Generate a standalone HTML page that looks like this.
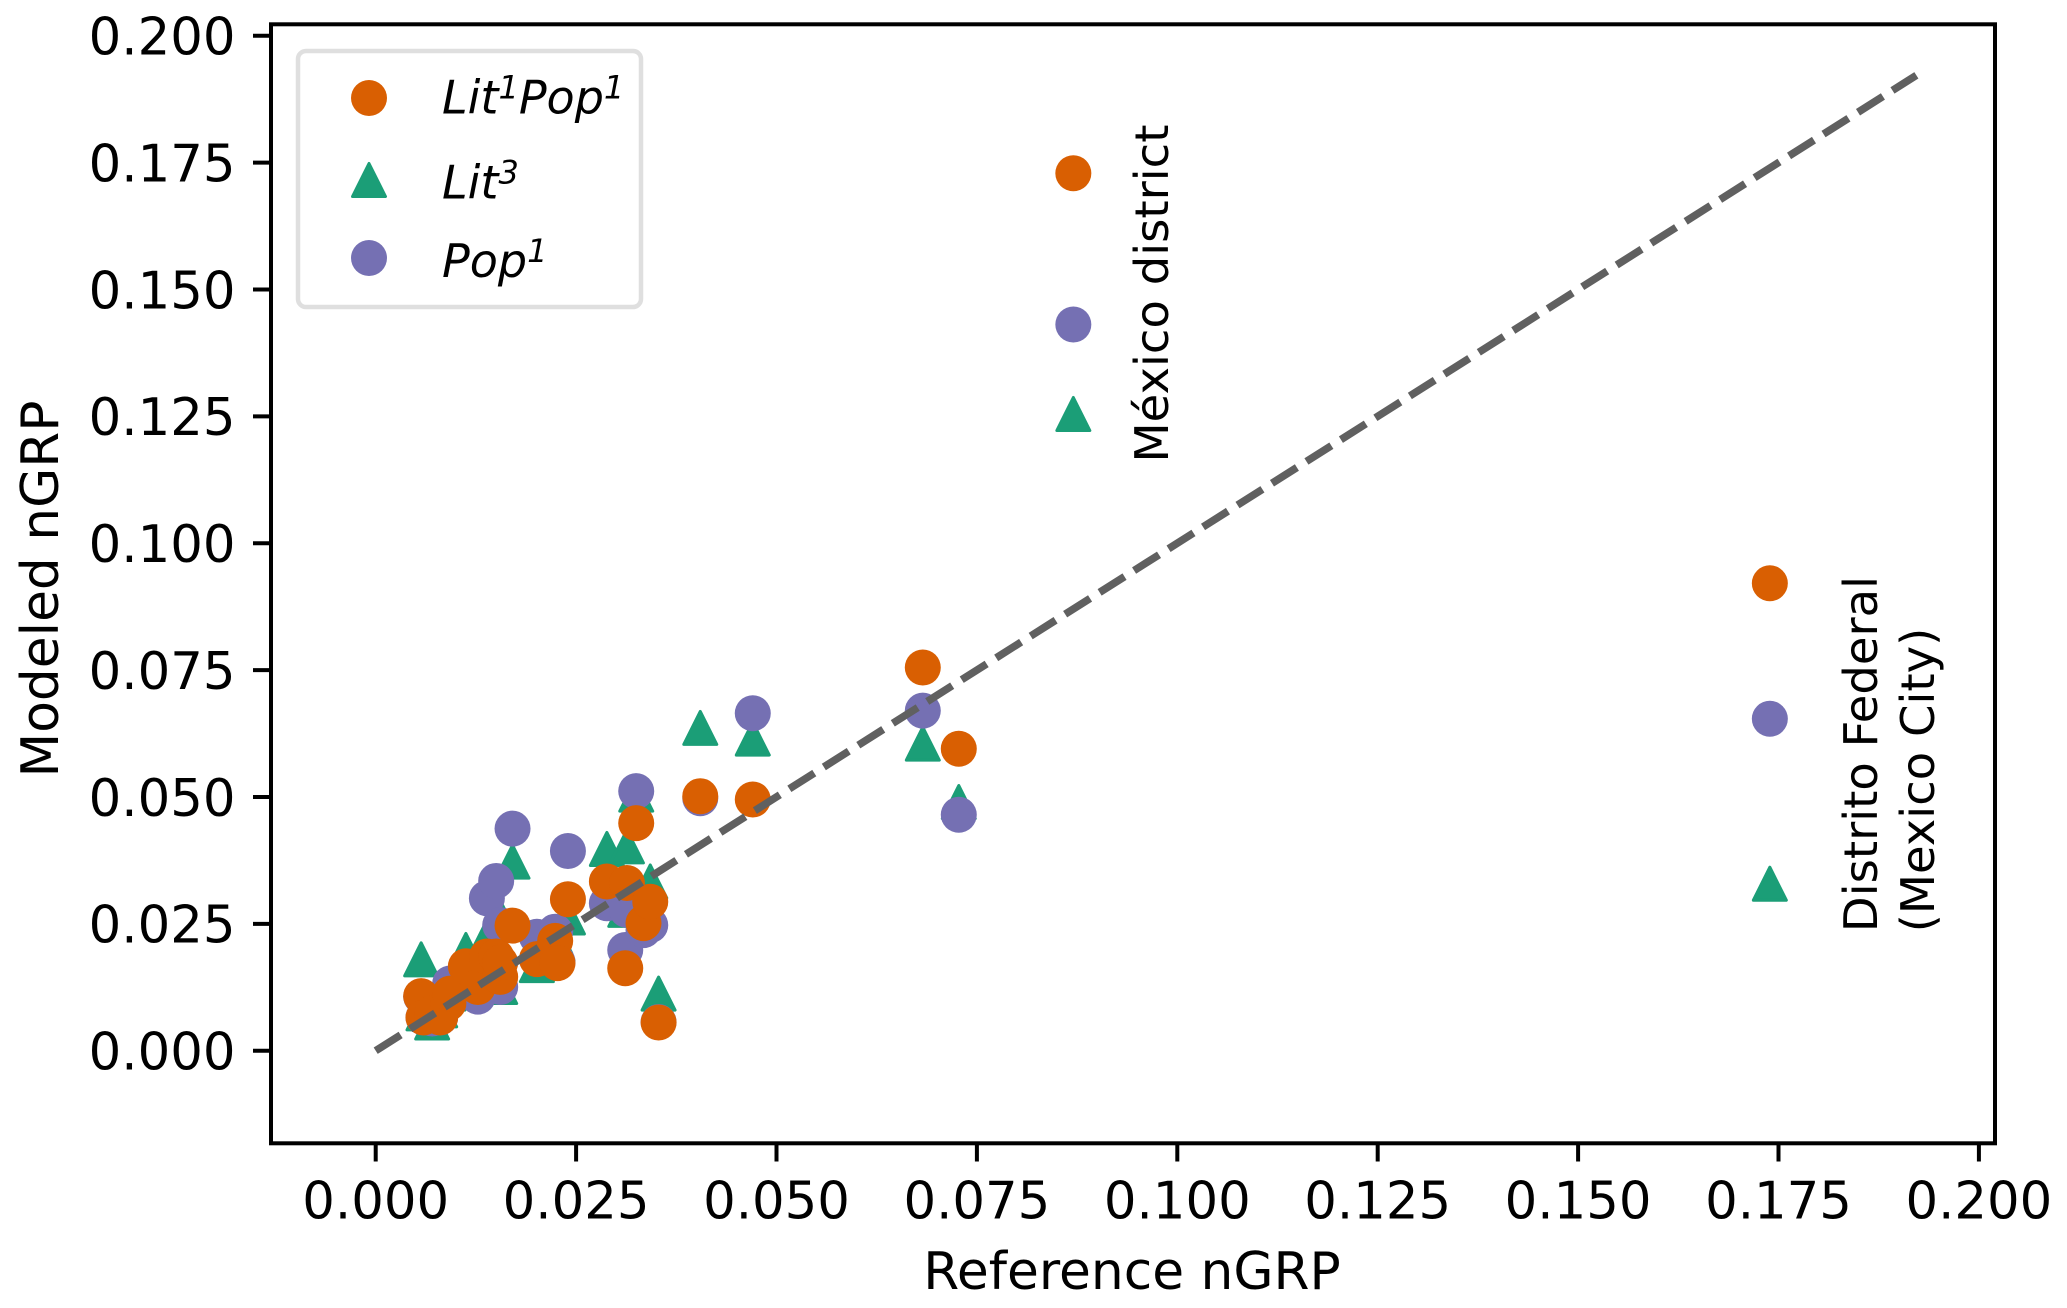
<!DOCTYPE html>
<html lang="en">
<head>
<meta charset="utf-8">
<title>Modeled vs Reference nGRP</title>
<style>
html,body{margin:0;padding:0;background:#fff;}
svg{display:block;}
text{font-family:"DejaVu Sans","Liberation Sans",sans-serif;fill:#000;}
</style>
</head>
<body>
<svg id="chart" xmlns="http://www.w3.org/2000/svg" width="2067" height="1308" viewBox="0 0 2067 1308">
  <rect x="0" y="0" width="2067" height="1308" fill="#ffffff"/>
  <g id="ticks"></g>
  <g id="marks"></g>
  <rect x="271" y="24.3" width="1724" height="1119" fill="none" stroke="#000" stroke-width="4"/>
  <text x="1132" y="1289" font-size="51.8" text-anchor="middle">Reference nGRP</text>
  <text transform="translate(58,589) rotate(-90)" font-size="51.8" text-anchor="middle">Modeled nGRP</text>
  <text transform="translate(1168,293.5) rotate(-90)" font-size="46.5" text-anchor="middle">México district</text>
  <text transform="translate(1877,754) rotate(-90)" font-size="46.5" text-anchor="middle">Distrito Federal</text>
  <text transform="translate(1934,780) rotate(-90)" font-size="46.5" text-anchor="middle">(Mexico City)</text>
  <g>
    <rect x="298" y="51" width="343" height="256" rx="8" ry="8" fill="#fff" stroke="#dfdfdf" stroke-width="4.5"/>
    <circle cx="369" cy="98" r="18" fill="#d95f02"/>
    <polygon points="369,163.5 385.5,196.5 352.5,196.5" fill="#1b9e77" stroke="#1b9e77" stroke-width="3" stroke-linejoin="round"/>
    <circle cx="369" cy="258" r="18" fill="#7570b3"/>
    <text x="442" y="113.5" font-size="46" font-style="italic">Lit<tspan font-size="32" dy="-15">1</tspan><tspan dy="15">Pop</tspan><tspan font-size="32" dy="-15">1</tspan></text>
    <text x="442" y="198.5" font-size="46" font-style="italic">Lit<tspan font-size="32" dy="-15">3</tspan></text>
    <text x="442" y="277" font-size="46" font-style="italic">Pop<tspan font-size="32" dy="-15">1</tspan></text>
  </g>
</svg>
<script>
const referenceValues = [0.00567,0.00596,0.00704,0.00804,0.00907,0.00929,0.01125,0.01274,0.01387,0.01503,0.01553,0.01553,0.01707,0.02011,0.02239,0.02268,0.02398,0.02884,0.03113,0.03134,0.0325,0.03341,0.03425,0.03529,0.04049,0.04704,0.06825,0.07274,0.08703,0.17392];
const lit1pop1Values = [0.01075,0.00655,0.00735,0.00655,0.00935,0.01125,0.01665,0.01255,0.01855,0.01855,0.01455,0.01735,0.02465,0.01805,0.02165,0.01725,0.02985,0.03335,0.01625,0.03305,0.04485,0.02515,0.02935,0.00555,0.05015,0.0495,0.0755,0.0595,0.1729,0.0921];
const lit3Values = [0.0180,0.00735,0.00555,0.00795,0.01125,0.01235,0.01985,0.01585,0.02245,0.02515,0.01255,0.02635,0.03725,0.01685,0.0225,0.0210,0.02625,0.03975,0.02775,0.04025,0.05045,0.03035,0.03335,0.01125,0.0636,0.0615,0.0605,0.0490,0.12546,0.0329];
const pop1Values = [0.01065,0.00655,0.00635,0.00655,0.00995,0.01325,0.01255,0.01065,0.03005,0.03345,0.01255,0.02475,0.04375,0.02245,0.02345,0.0175,0.03935,0.02905,0.01985,0.02775,0.05115,0.02375,0.02475,0.00565,0.04975,0.0665,0.0670,0.0465,0.1431,0.0654];
const xTickValues = [0,0.025,0.05,0.075,0.1,0.125,0.15,0.175,0.2];
const yTickValues = [0,0.025,0.05,0.075,0.1,0.125,0.15,0.175,0.2];
const referenceLineEnds = [0,0.1922];

const SVG_NS = 'http://www.w3.org/2000/svg';
function xScale(v){ return 375.7 + v * 8016; }
function yScale(v){ return 1050.7 - v * 5075; }
function make(tag, attrs, parent){
  const el = document.createElementNS(SVG_NS, tag);
  for (const k in attrs) el.setAttribute(k, attrs[k]);
  parent.appendChild(el);
  return el;
}
const ticksG = document.getElementById('ticks');
const marksG = document.getElementById('marks');

xTickValues.forEach(function(v){
  const px = xScale(v);
  const t = make('line', {x1:px, x2:px, y1:1143, y2:1161.5, stroke:'#000', 'stroke-width':4}, ticksG);
  
  
  const l = make('text', {x:px, y:1218.5, 'font-size':51.3, 'text-anchor':'middle'}, ticksG);
  
  
  l.textContent = v.toFixed(3);
});
yTickValues.forEach(function(v){
  const py = yScale(v);
  const t = make('line', {x1:253, x2:271, y1:py, y2:py, stroke:'#000', 'stroke-width':4}, ticksG);
  
  
  const l = make('text', {x:235.5, y:py + 18.8, 'font-size':51.3, 'text-anchor':'end'}, ticksG);
  
  
  l.textContent = v.toFixed(3);
});

referenceValues.forEach(function(x, i){
  const px = xScale(x), py = yScale(lit3Values[i]);
  const tri = make('polygon', {
    points: px + ',' + (py - 16.5) + ' ' + (px + 16.5) + ',' + (py + 16.5) + ' ' + (px - 16.5) + ',' + (py + 16.5),
    fill:'#1b9e77', stroke:'#1b9e77', 'stroke-width':3, 'stroke-linejoin':'round'
  }, marksG);
  
  
});
referenceValues.forEach(function(x, i){
  const c = make('circle', {cx:xScale(x), cy:yScale(pop1Values[i]), r:18, fill:'#7570b3'}, marksG);
  
  
});
referenceValues.forEach(function(x, i){
  const c = make('circle', {cx:xScale(x), cy:yScale(lit1pop1Values[i]), r:18, fill:'#d95f02'}, marksG);
  
  
});
const refLine = make('line', {
  x1:xScale(referenceLineEnds[0]), y1:yScale(referenceLineEnds[0]),
  x2:xScale(referenceLineEnds[1]), y2:yScale(referenceLineEnds[1]),
  stroke:'#606060', 'stroke-width':7.6, 'stroke-dasharray':'29.5 11.3'
}, marksG);


</script>
</body>
</html>
